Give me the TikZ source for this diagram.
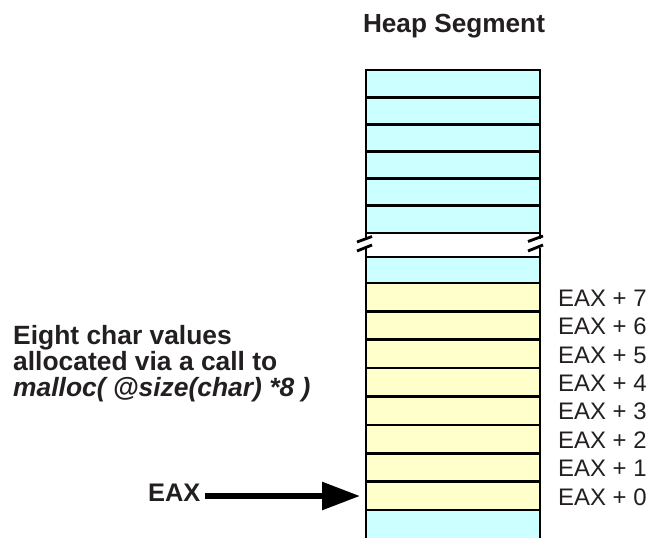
\documentclass[tikz,border=0pt]{standalone}
\usepackage{fontspec}
\setmainfont{Liberation Sans}
\usetikzlibrary{arrows.meta}
\definecolor{cellcyan}{HTML}{CCFFFF}
\definecolor{cellyellow}{HTML}{FFFFCC}
\definecolor{ink}{HTML}{231F20}
\begin{document}
\begin{tikzpicture}[x=1bp,y=-1bp,
  cell/.style={draw=black, line width=2.7bp, minimum width=174bp, inner sep=0pt, outer sep=0pt},
  cyancell/.style={cell, fill=cellcyan},
  yellowcell/.style={cell, fill=cellyellow},
  edgeline/.style={draw=black, line width=2.7bp},
  breakmark/.style={draw=black, line width=2.8bp},
  title/.style={font=\fontsize{26.3}{28}\selectfont\bfseries, text=ink, inner sep=0pt, anchor=base},
  note/.style={font=\fontsize{26.5}{27}\selectfont\bfseries, text=ink, inner sep=0pt, anchor=base west},
  offs/.style={font=\fontsize{24}{25}\selectfont, text=ink, inner sep=0pt, anchor=west},
  pointer/.style={draw=black, line width=5.7bp, -{Triangle[length=38bp,width=27bp]}}
]
\useasboundingbox (0,0) rectangle (649,538);

% title
\node[title] (heap) at (454,33) {Heap Segment};

% upper cyan cells
\foreach \i in {0,...,5} {
  \node[cyancell, minimum height=27.17bp] (c\i) at (453,{70+27.17*(\i+0.5)}) {};
}

% break gap vertical pieces
\draw[edgeline] (366,233) -- (366,239);
\draw[edgeline] (366,248) -- (366,257);
\draw[edgeline] (540,233) -- (540,239);
\draw[edgeline] (540,248) -- (540,257);
\draw[breakmark] (357,242) -- (372,236.5);
\draw[breakmark] (357,251) -- (372,245);
\draw[breakmark] (528,241.5) -- (543,236);
\draw[breakmark] (528,251) -- (543,245);

% cyan cell below break
\node[cyancell, minimum height=26bp] (cb) at (453,270) {};

% bottom cyan (open)
\fill[cellcyan] (366,510) rectangle (540,540);
\draw[edgeline] (366,510) -- (366,540);
\draw[edgeline] (540,510) -- (540,540);

% yellow cells and offsets
\foreach \i in {0,...,7} {
  \node[yellowcell, minimum height=28.375bp] (y\i) at (453,{510-28.375*(\i+0.5)}) {};
  \node[offs] (o\i) at (558,{510-28.375*(\i+0.5)+1}) {EAX + \i};
}

% left note
\node[note] (n1) at (13,344) {Eight char values};
\node[note] (n2) at (13,370.5) {allocated via a call to};
\begin{scope}
  \clip (0,370) rectangle (310,420);
  \node[note] (n3) at (13,396.5) {\itshape malloc( @size(char) *8 )};
\end{scope}

% EAX pointer
\node[note, font=\fontsize{25.5}{27}\selectfont\bfseries] (eax) at (148,501) {EAX};
\coordinate (ptail) at (205,496);
\coordinate (ptip) at (360,496);
\draw[pointer] (ptail) -- (ptip);
\end{tikzpicture}
\end{document}
